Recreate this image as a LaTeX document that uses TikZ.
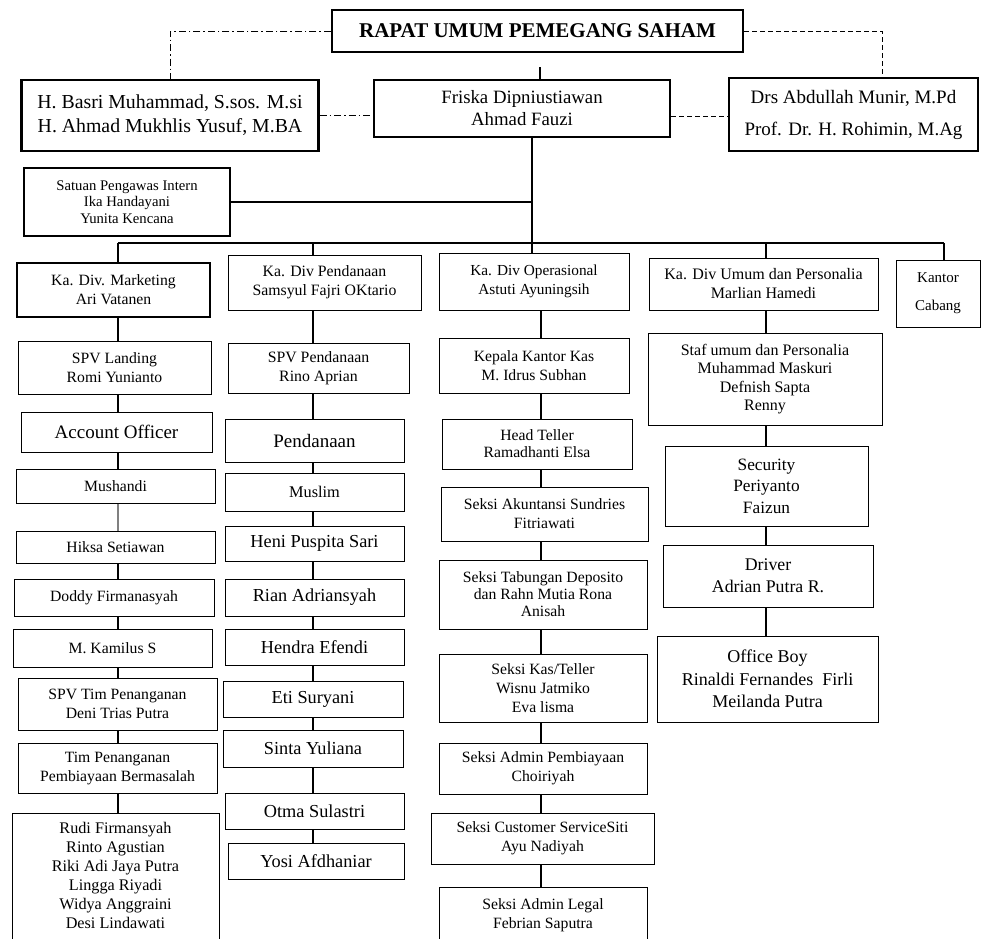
\documentclass[tikz,border=0pt]{standalone}
\usepackage{fontspec}
\setmainfont{Liberation Serif}
\usepackage{tikz}

\begin{document}
\begin{tikzpicture}[x=1pt, y=-1pt,
    unit/.style={draw, line width=1pt, align=center, inner sep=1pt},
    boss/.style={unit, line width=2.4pt},
    fs/.style 2 args={font=\fontsize{#1}{#2}\selectfont},
    link/.style={line width=1.1pt},
    dashdot/.style={line width=1pt, dash pattern=on 7pt off 3pt on 1.5pt off 3pt},
    dashline/.style={line width=1pt, dash pattern=on 5pt off 3pt}]
        \useasboundingbox (0,0) rectangle (981,938);

        % Top management
        \node[boss, minimum width=411, minimum height=42, fs={21}{24}] (rups) at (537.5,31) {\bfseries RAPAT UMUM PEMEGANG SAHAM};
        \node[boss, minimum width=297, minimum height=71, fs={19.8}{24}] (basri) at (170,115.5) {H. Basri Muhammad, S.sos. M.si\\H. Ahmad Mukhlis Yusuf, M.BA};
        \node[unit, line width=2pt, minimum width=296, minimum height=57, fs={18.8}{22}] (friska) at (522,108.5) {Friska Dipniustiawan\\Ahmad Fauzi};
        \node[boss, minimum width=249, minimum height=73, fs={19}{32}] (abdul) at (853.5,114.5) {Drs Abdullah Munir, M.Pd\\Prof. Dr. H. Rohimin, M.Ag};
        \node[boss, minimum width=206, minimum height=68, fs={14.7}{16.5}] (spi) at (127,202) {Satuan Pengawas Intern\\Ika Handayani\\Yunita Kencana};

        % Bus and column lines
        \coordinate (trunk) at (532,243);
        \coordinate (c1) at (118,243);
        \coordinate (c2) at (313,243);
        \coordinate (c3) at (541,243);
        \coordinate (c4) at (766,243);
        \coordinate (c5) at (944,243);

        % Marketing column
        \node[boss, minimum width=193, minimum height=54, fs={15.7}{19}] (mkt) at (113.5,290) {Ka. Div. Marketing\\Ari Vatanen};
        \node[unit, minimum width=193, minimum height=53, fs={15.7}{19}] (spvland) at (114.5,367.5) {SPV Landing\\Romi Yunianto};
        \node[unit, minimum width=191, minimum height=40, fs={19}{22}] (ao) at (116.5,432) {Account Officer};
        \node[unit, minimum width=199, minimum height=34, fs={15.7}{18}] (mush) at (115.5,486) {Mushandi};
        \node[unit, minimum width=199, minimum height=32, fs={15.7}{18}] (hiksa) at (115.5,547) {Hiksa Setiawan};
        \node[unit, minimum width=200, minimum height=37, fs={15.7}{18}] (doddy) at (114,597.5) {Doddy Firmanasyah};
        \node[unit, minimum width=199, minimum height=38, fs={15.7}{18}] (kamil) at (112.5,648) {M. Kamilus S};
        \node[unit, minimum width=199, minimum height=52, fs={15.7}{19}] (spvtim) at (117.5,704) {SPV Tim Penanganan\\Deni Trias Putra};
        \node[unit, minimum width=199, minimum height=50, fs={15.7}{19}] (timpen) at (117.5,768) {Tim Penanganan\\Pembiayaan Bermasalah};
        \node[unit, minimum width=207, minimum height=130, fs={16.2}{19}, anchor=north] (rudi) at (115.5,813) {\\[-13pt]Rudi Firmansyah\\Rinto Agustian\\Riki Adi Jaya Putra\\Lingga Riyadi\\Widya Anggraini\\Desi Lindawati};

        % Pendanaan column
        \node[unit, minimum width=193, minimum height=55, fs={15.8}{19}] (pend) at (324.5,282.5) {Ka. Div Pendanaan\\Samsyul Fajri OKtario};
        \node[unit, minimum width=181, minimum height=50, fs={15.8}{19}] (spvpend) at (318.5,368) {SPV Pendanaan\\Rino Aprian};
        \node[unit, minimum width=179, minimum height=43, fs={19}{22}] (pdn) at (314.5,440.5) {Pendanaan};
        \node[unit, minimum width=179, minimum height=38, fs={16.3}{18}] (muslim) at (314.5,492) {Muslim};
        \node[unit, minimum width=179, minimum height=35, fs={18.3}{20}] (heni) at (314.5,543.5) {Heni Puspita Sari};
        \node[unit, minimum width=179, minimum height=37, fs={18.3}{20}] (rian) at (314.5,597.5) {Rian Adriansyah};
        \node[unit, minimum width=179, minimum height=36, fs={18.3}{20}] (hendra) at (314.5,647) {Hendra Efendi};
        \node[unit, minimum width=180, minimum height=36, fs={18.3}{20}] (eti) at (313,699) {Eti Suryani};
        \node[unit, minimum width=180, minimum height=37, fs={18.3}{20}] (sinta) at (313,748.5) {Sinta Yuliana};
        \node[unit, minimum width=179, minimum height=36, fs={18.3}{20}] (otma) at (314.5,811) {Otma Sulastri};
        \node[unit, minimum width=176, minimum height=36, fs={18.3}{20}] (yosi) at (316,861) {Yosi Afdhaniar};

        % Operasional column
        \node[unit, minimum width=190, minimum height=57, fs={15.3}{19}] (ops) at (534,281.5) {Ka. Div Operasional\\Astuti Ayuningsih};
        \node[unit, minimum width=190, minimum height=55, fs={15.7}{19}] (kkk) at (534,365.5) {Kepala Kantor Kas\\M. Idrus Subhan};
        \node[unit, minimum width=190, minimum height=50, fs={15.7}{17}] (ht) at (537,444) {Head Teller\\Ramadhanti Elsa};
        \node[unit, minimum width=207, minimum height=54, fs={15.7}{19}] (akun) at (544.5,514) {Seksi Akuntansi Sundries\\Fitriawati};
        \node[unit, minimum width=208, minimum height=69, fs={15.7}{17}] (tab) at (543,594.5) {Seksi Tabungan Deposito\\dan Rahn Mutia Rona\\Anisah};
        \node[unit, minimum width=208, minimum height=68, fs={15.7}{19}] (kas) at (543,688) {Seksi Kas/Teller\\Wisnu Jatmiko\\Eva lisma};
        \node[unit, minimum width=208, minimum height=51, fs={15.7}{19}] (adm) at (543,768.5) {Seksi Admin Pembiayaan\\Choiriyah};
        \node[unit, minimum width=223, minimum height=51, fs={15.7}{19}] (cs) at (542.5,838.5) {Seksi Customer ServiceSiti\\Ayu Nadiyah};
        \node[unit, minimum width=208, minimum height=56, fs={15.7}{19}, anchor=north] (legal) at (543,887) {Seksi Admin Legal\\Febrian Saputra};

        % Umum column
        \node[unit, minimum width=229, minimum height=52, fs={16}{19}] (umum) at (763.5,284) {Ka. Div Umum dan Personalia\\Marlian Hamedi};
        \node[unit, minimum width=234, minimum height=92, fs={16}{18.3}] (staf) at (765,379) {Staf umum dan Personalia\\Muhammad Maskuri\\Defnish Sapta\\Renny};
        \node[unit, minimum width=203, minimum height=80, fs={17.3}{21.5}] (sec) at (766.5,486) {Security\\Periyanto\\Faizun};
        \node[unit, minimum width=210, minimum height=62, fs={17.8}{22}] (drv) at (768,576) {Driver\\Adrian Putra R.};
        \node[unit, minimum width=221, minimum height=86, fs={18}{22.5}] (ob) at (767.5,679) {Office Boy\\Rinaldi Fernandes\ \ Firli\\Meilanda Putra};
        \node[unit, minimum width=84, minimum height=67, fs={15}{28}] (kantor) at (938,293.5) {Kantor\\Cabang};

        % Supervisory lines
        \draw[dashdot] (rups.west) -| (basri.north);
        \draw[dashline] (rups.east) -| ([xshift=-97]abdul.north east);
        \draw[dashdot] (basri.east) -- (basri.east -| friska.west);
        \draw[dashline] ([yshift=-7.5]friska.east) -- ([yshift=-7.5]friska.east -| abdul.west);
        \draw[link] (friska.north -| 540,0) -- ++(0,-12);

        % Command lines
        \draw[link] (friska.south -| trunk) -- (trunk |- ops.north);
        \draw[link] (spi.east) -- (spi.east -| trunk);
        \draw[link] (c1) -- (c5);
        \draw[link] (c1) -- (c1 |- mkt.north);
        \draw[link] (c2) -- (c2 |- pend.north);
        \draw[link] (c4) -- (c4 |- umum.north);
        \draw[link] (c5) -- (c5 |- kantor.north);

        \draw[link] (c1 |- mkt.south) -- (c1 |- spvland.north)
                    (c1 |- spvland.south) -- (c1 |- ao.north)
                    (c1 |- ao.south) -- (c1 |- mush.north)
                    (c1 |- hiksa.south) -- (c1 |- doddy.north)
                    (c1 |- doddy.south) -- (c1 |- kamil.north)
                    (c1 |- kamil.south) -- (c1 |- spvtim.north)
                    (c1 |- spvtim.south) -- (c1 |- timpen.north)
                    (c1 |- timpen.south) -- (c1 |- rudi.north);
        \draw[link, gray] (c1 |- mush.south) -- (c1 |- hiksa.north);

        \draw[link] (c2 |- pend.south) -- (c2 |- spvpend.north)
                    (c2 |- spvpend.south) -- (c2 |- pdn.north)
                    (c2 |- pdn.south) -- (c2 |- muslim.north)
                    (c2 |- muslim.south) -- (c2 |- heni.north)
                    (c2 |- heni.south) -- (c2 |- rian.north)
                    (c2 |- rian.south) -- (c2 |- hendra.north)
                    (c2 |- hendra.south) -- (c2 |- eti.north)
                    (c2 |- eti.south) -- (c2 |- sinta.north)
                    (c2 |- sinta.south) -- (c2 |- otma.north)
                    (c2 |- otma.south) -- (c2 |- yosi.north);

        \draw[link] (c3 |- ops.south) -- (c3 |- kkk.north)
                    (c3 |- kkk.south) -- (c3 |- ht.north)
                    (c3 |- ht.south) -- (c3 |- akun.north)
                    (c3 |- akun.south) -- (c3 |- tab.north)
                    (c3 |- tab.south) -- (c3 |- kas.north)
                    (c3 |- kas.south) -- (c3 |- adm.north)
                    (c3 |- adm.south) -- (c3 |- cs.north)
                    (c3 |- cs.south) -- (c3 |- legal.north);

        \draw[link] (c4 |- umum.south) -- (c4 |- staf.north)
                    (c4 |- staf.south) -- (c4 |- sec.north)
                    (c4 |- sec.south) -- (c4 |- drv.north)
                    (c4 |- drv.south) -- (c4 |- ob.north);
\end{tikzpicture}
\end{document}
